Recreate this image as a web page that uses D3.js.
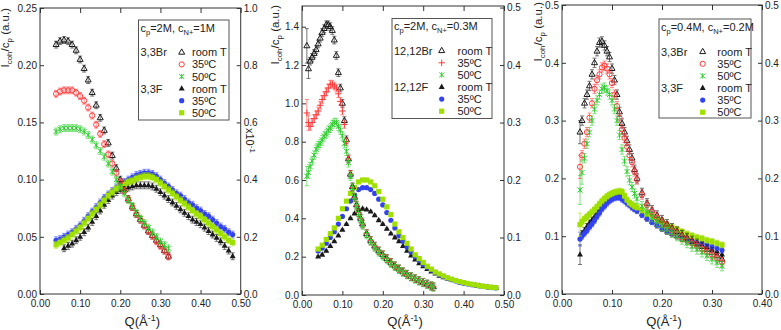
<!DOCTYPE html>
<html>
<head>
<meta charset="utf-8">
<script src="https://cdn.jsdelivr.net/npm/d3@7"></script>
<style>
body { margin: 0; background: #fff; }
svg { display: block; font-family: "Liberation Sans", Arial, sans-serif; }
</style>
</head>
<body>
<div id="chart"></div>
<script>
// ---- panel 1: cp=2M, cN+=1M (3,3Br / 3,3F)
var q1Br = [0.04,0.05,0.06,0.07,0.08,0.09,0.10,0.11,0.12,0.13,0.14,0.15,0.16,0.17,0.18,0.19,0.20,0.21,0.22,0.23,0.24,0.25,0.26,0.27,0.28,0.29,0.30,0.31,0.32];
var p1BrRoom = [0.218,0.221,0.222,0.221,0.218,0.213,0.205,0.197,0.187,0.176,0.165,0.154,0.143,0.132,0.121,0.110,0.100,0.091,0.083,0.076,0.070,0.065,0.060,0.055,0.051,0.047,0.043,0.038,0.033];
var p1Br35 = [0.175,0.177,0.178,0.178,0.178,0.176,0.173,0.169,0.163,0.156,0.148,0.140,0.131,0.122,0.114,0.106,0.098,0.090,0.083,0.076,0.070,0.065,0.060,0.055,0.051,0.046,0.042,0.038,0.033];
var p1Br50 = [0.142,0.144,0.145,0.145,0.145,0.145,0.144,0.142,0.139,0.135,0.130,0.125,0.120,0.114,0.107,0.100,0.094,0.088,0.082,0.077,0.071,0.066,0.062,0.058,0.054,0.050,0.046,0.043,0.040];
var q1F = [0.04,0.05,0.06,0.07,0.08,0.09,0.10,0.11,0.12,0.13,0.14,0.15,0.16,0.17,0.18,0.19,0.20,0.21,0.22,0.23,0.24,0.25,0.26,0.27,0.28,0.29,0.30,0.31,0.32,0.33,0.34,0.35,0.36,0.37,0.38,0.39,0.40,0.41,0.42,0.43,0.44,0.45,0.46,0.47,0.48];
var p1FRoom = [null,null,0.040,0.042,0.044,0.047,0.050,0.054,0.058,0.063,0.068,0.073,0.078,0.082,0.086,0.089,0.091,0.092,0.093,0.094,0.095,0.095,0.095,0.095,0.094,0.092,0.089,0.086,0.083,0.080,0.077,0.074,0.071,0.068,0.065,0.063,0.061,0.058,0.055,0.052,0.049,0.046,0.042,0.038,0.033];
var p1F35 = [0.047,0.048,0.050,0.052,0.054,0.057,0.060,0.064,0.068,0.072,0.076,0.080,0.084,0.087,0.090,0.093,0.096,0.098,0.100,0.102,0.104,0.105,0.106,0.106,0.105,0.103,0.100,0.097,0.094,0.091,0.088,0.086,0.083,0.080,0.078,0.075,0.073,0.070,0.068,0.065,0.062,0.059,0.057,0.054,0.052];
var p1F50 = [0.043,0.045,0.047,0.049,0.052,0.055,0.058,0.062,0.066,0.070,0.074,0.078,0.082,0.086,0.089,0.092,0.094,0.096,0.098,0.099,0.101,0.102,0.103,0.103,0.102,0.100,0.097,0.094,0.091,0.088,0.085,0.082,0.079,0.076,0.073,0.070,0.068,0.065,0.062,0.059,0.056,0.053,0.050,0.047,0.045];

// ---- panel 2: cp=2M, cN+=0.3M (12,12Br / 12,12F)
var q2Br = [0.012,0.016,0.02,0.025,0.03,0.035,0.04,0.045,0.05,0.055,0.06,0.065,0.07,0.075,0.08,0.085,0.09,0.095,0.10,0.105,0.11,0.115,0.12,0.125,0.13,0.135,0.14,0.145,0.15,0.16,0.17,0.18,0.19,0.20,0.21,0.22,0.23,0.24,0.25,0.26,0.27,0.28,0.29,0.30,0.31,0.32,0.325];
var p2BrRoom = [1.30,1.18,1.22,1.24,1.26,1.28,1.31,1.34,1.37,1.39,1.41,1.41,1.40,1.38,1.33,1.25,1.16,1.08,1.00,0.91,0.81,0.71,0.63,0.565,0.51,0.47,0.43,0.40,0.37,0.32,0.285,0.255,0.23,0.21,0.19,0.17,0.152,0.136,0.121,0.108,0.096,0.085,0.075,0.066,0.057,0.048,0.043];
var p2Br35 = [0.95,0.90,0.88,0.90,0.92,0.94,0.96,0.99,1.02,1.04,1.06,1.08,1.10,1.10,1.09,1.08,1.05,1.01,0.96,0.89,0.80,0.71,0.63,0.56,0.51,0.465,0.43,0.40,0.37,0.32,0.285,0.255,0.23,0.21,0.19,0.17,0.152,0.136,0.121,0.108,0.096,0.085,0.075,0.066,0.057,0.047,0.042];
var p2Br50 = [0.62,0.64,0.67,0.70,0.73,0.76,0.78,0.79,0.81,0.83,0.84,0.86,0.87,0.89,0.90,0.90,0.88,0.86,0.83,0.79,0.75,0.69,0.62,0.56,0.51,0.465,0.425,0.395,0.365,0.315,0.28,0.25,0.225,0.205,0.185,0.165,0.15,0.134,0.12,0.107,0.095,0.084,0.074,0.065,0.056,0.047,0.042];
var q2F = [0.04,0.05,0.06,0.07,0.08,0.09,0.10,0.11,0.12,0.13,0.14,0.15,0.16,0.17,0.18,0.19,0.20,0.21,0.22,0.23,0.24,0.25,0.26,0.27,0.28,0.29,0.30,0.31,0.32,0.33,0.34,0.35,0.36,0.37,0.38,0.39,0.40,0.41,0.42,0.43,0.44,0.45,0.46,0.47,0.48];
var p2FRoom = [0.20,0.21,0.23,0.255,0.28,0.31,0.34,0.37,0.40,0.425,0.445,0.45,0.445,0.435,0.415,0.39,0.37,0.345,0.32,0.30,0.28,0.255,0.23,0.205,0.185,0.165,0.15,0.135,0.122,0.112,0.10,0.092,0.085,0.078,0.072,0.066,0.061,0.057,0.053,0.050,0.047,0.044,0.041,0.038,0.036];
var p2F35 = [0.23,0.245,0.27,0.30,0.33,0.37,0.41,0.45,0.49,0.52,0.55,0.56,0.56,0.55,0.53,0.50,0.47,0.43,0.39,0.35,0.31,0.28,0.25,0.225,0.20,0.18,0.16,0.145,0.13,0.118,0.106,0.096,0.087,0.080,0.073,0.067,0.062,0.058,0.054,0.050,0.047,0.044,0.041,0.039,0.037];
var p2F50 = [0.24,0.26,0.29,0.32,0.35,0.40,0.45,0.49,0.53,0.56,0.59,0.60,0.60,0.59,0.57,0.54,0.50,0.46,0.42,0.37,0.33,0.30,0.27,0.24,0.21,0.19,0.17,0.15,0.135,0.12,0.11,0.10,0.09,0.083,0.076,0.070,0.065,0.060,0.056,0.052,0.048,0.045,0.042,0.040,0.038];

// ---- panel 3: cp=0.4M, cN+=0.2M (3,3Br / 3,3F)
var q3 = [0.036,0.04,0.045,0.05,0.055,0.06,0.065,0.07,0.075,0.08,0.085,0.09,0.095,0.10,0.105,0.11,0.115,0.12,0.125,0.13,0.135,0.14,0.145,0.15,0.16,0.17,0.18,0.19,0.20,0.21,0.22,0.23,0.24,0.25,0.26,0.27,0.28,0.29,0.30,0.31,0.32];
var p3BrRoom = [0.28,0.30,0.33,0.345,0.36,0.38,0.40,0.42,0.435,0.437,0.43,0.42,0.41,0.39,0.37,0.345,0.315,0.295,0.28,0.265,0.25,0.235,0.215,0.20,0.175,0.157,0.145,0.136,0.128,0.121,0.114,0.108,0.102,0.097,0.092,0.087,0.082,0.077,0.072,0.066,0.060];
var p3Br35 = [0.22,0.24,0.26,0.28,0.305,0.33,0.355,0.37,0.38,0.392,0.395,0.39,0.38,0.365,0.345,0.325,0.305,0.285,0.27,0.255,0.24,0.228,0.212,0.198,0.172,0.154,0.142,0.132,0.124,0.117,0.110,0.104,0.098,0.093,0.088,0.083,0.078,0.073,0.068,0.062,0.055];
var p3Br50 = [0.18,0.21,0.235,0.26,0.28,0.30,0.32,0.335,0.345,0.355,0.357,0.352,0.345,0.335,0.32,0.30,0.275,0.25,0.23,0.212,0.197,0.185,0.174,0.165,0.152,0.142,0.133,0.125,0.118,0.112,0.106,0.100,0.094,0.088,0.082,0.077,0.072,0.066,0.060,0.054,0.048];
var p3FRoom = [0.068,0.105,0.11,0.117,0.123,0.128,0.134,0.14,0.146,0.152,0.157,0.161,0.165,0.168,0.17,0.171,0.171,0.168,0.164,0.16,0.156,0.152,0.148,0.145,0.138,0.131,0.125,0.119,0.113,0.108,0.104,0.100,0.096,0.093,0.090,0.087,0.084,0.081,0.077,0.073,0.068];
var p3F35 = [0.095,0.10,0.105,0.11,0.116,0.121,0.127,0.134,0.14,0.147,0.152,0.157,0.161,0.164,0.166,0.167,0.167,0.164,0.161,0.157,0.154,0.15,0.147,0.144,0.137,0.131,0.125,0.12,0.115,0.11,0.106,0.102,0.099,0.096,0.093,0.09,0.088,0.085,0.082,0.079,0.076];
var p3F50 = [0.12,0.125,0.13,0.134,0.138,0.142,0.146,0.151,0.156,0.161,0.165,0.169,0.172,0.174,0.176,0.177,0.178,0.177,0.17,0.163,0.158,0.155,0.152,0.15,0.145,0.139,0.134,0.129,0.125,0.12,0.116,0.112,0.108,0.104,0.101,0.098,0.096,0.093,0.091,0.088,0.085];

// error bar half-heights: [room, 35, 50] per family, and larger ones for the first points
var p1BrErr = [0.003,0.003,0.003], p1FErr = [0.003,0.003,0.003];
var p2BrErr = [0.02,0.02,0.022], p2FErr = [0.004,0.004,0.004];
var p3BrErr = [0.008,0.008,0.008], p3FErr = [0.005,0.005,0.005];
var p2BrLead = [[0.09,0.05],[0.07,0.04],[0.05,0.03]];
var p3BrLead = [[0.02],[0.02],[0.025,0.02]];
var p3FLead = [[0.017],[0.012],[0.02]];

// tick labels
var xTicks05 = [0,0.1,0.2,0.3,0.4,0.5];
var xTicks04 = [0,0.1,0.2,0.3,0.4];
var yTicks1 = [0,0.05,0.10,0.15,0.20,0.25];
var rTicks1 = [0,0.2,0.4,0.6,0.8,1.0];
var yTicks2 = [0,0.2,0.4,0.6,0.8,1.0,1.2,1.4];
var rTicks2 = [0,0.1,0.2,0.3,0.4,0.5];
var yTicks3 = [0,0.1,0.2,0.3,0.4,0.5];

// legend text
var titleP = ["2M","2M","0.4M"];
var titleN = ["1M","0.3M","0.2M"];
var brNames = ["3,3Br","12,12Br","3,3Br"];
var fNames = ["3,3F","12,12F","3,3F"];
var tempNames = ["room T","35ºC","50ºC"];

var width = 781, height = 330;
var svg = d3.select("#chart").append("svg")
    .attr("width", width)
    .attr("height", height);

var shapes = {
    tri: "M0,-3.4L3,1.9L-3,1.9Z",
    circ: "M2.6,0A2.6,2.6 0 1,1 -2.6,0A2.6,2.6 0 1,1 2.6,0Z",
    sq: "M-2.6,-2.6H2.6V2.6H-2.6Z",
    plus: "M-3.2,0H3.2M0,-3.2V3.2",
    star: "M-2.5,-2.5L2.5,2.5M-2.5,2.5L2.5,-2.5M0,-2.6V2.6"
};
var black = "#1a1a1a", red = "#ff3b3b", green = "#2fcc2f", blue = "#3342f0", yg = "#9fe000";

var panels = [
    { x0: 40, x1: 240.7, y0: 8, y1: 294, xMax: 0.5, yMax: 0.25, rMax: 1.0,
      xT: xTicks05, yT: yTicks1, rT: rTicks1, yF: ".2f", rF: ".1f",
      box: [138.5, 20, 90.5, 100], mx: 181.7, tx: 192, lx: 140.5, ty: 52.3,
      ylx: 9, yly: 8, br35: "circ", sci: true,
      br: [p1BrRoom, p1Br35, p1Br50], qBr: q1Br, brErr: p1BrErr, brLead: [[],[],[]],
      f: [p1FRoom, p1F35, p1F50], qF: q1F, fErr: p1FErr, fLead: [[],[],[]] },
    { x0: 302, x1: 504, y0: 6, y1: 295, xMax: 0.5, yMax: 1.508, rMax: 0.5027,
      xT: xTicks05, yT: yTicks2, rT: rTicks2, yF: ".1f", rF: ".1f",
      box: [392, 18.5, 100, 100], mx: 441.7, tx: 457.5, lx: 394, ty: 50.7,
      ylx: 279, yly: 5, br35: "plus", sci: false,
      br: [p2BrRoom, p2Br35, p2Br50], qBr: q2Br, brErr: p2BrErr, brLead: p2BrLead,
      f: [p2FRoom, p2F35, p2F50], qF: q2F, fErr: p2FErr, fLead: [[],[],[]] },
    { x0: 562, x1: 762, y0: 5, y1: 294, xMax: 0.4, yMax: 0.5, rMax: 0.5,
      xT: xTicks04, yT: yTicks3, rT: yTicks3, yF: ".1f", rF: ".1f",
      box: [659, 19, 92, 99], mx: 702.7, tx: 717.3, lx: 661, ty: 51.7,
      ylx: 541.5, yly: 2, br35: "circ", sci: false,
      br: [p3BrRoom, p3Br35, p3Br50], qBr: q3, brErr: p3BrErr, brLead: p3BrLead,
      f: [p3FRoom, p3F35, p3F50], qF: q3, fErr: p3FErr, fLead: p3FLead }
];

function styleBr(p) {
    return [
        { shape: "tri", color: black, fill: "none" },
        { shape: p.br35, color: red, fill: "none" },
        { shape: "star", color: green, fill: "none" }
    ];
}
var styleF = [
    { shape: "tri", color: black, fill: black },
    { shape: "circ", color: blue, fill: blue },
    { shape: "sq", color: yg, fill: yg }
];

function drawSeries(g, x, y, qs, vals, err, lead, st) {
    var pts = qs.map(function(q, i) {
        return { q: q, v: vals[i], e: i < lead.length ? lead[i] : err };
    }).filter(function(d) { return d.v != null; });

    g.append("g")
        .attr("stroke", st.color)
        .attr("stroke-width", 0.8)
        .attr("opacity", 0.75)
        .attr("fill", "none")
        .selectAll("path")
        .data(pts)
        .enter().append("path")
        .attr("d", function(d) {
            var cx = x(d.q), t = y(d.v + d.e), b = y(d.v - d.e);
            return "M" + cx + "," + t + "V" + b +
                "M" + (cx - 2) + "," + t + "H" + (cx + 2) +
                "M" + (cx - 2) + "," + b + "H" + (cx + 2);
        });

    g.append("g")
        .selectAll("path")
        .data(pts)
        .enter().append("path")
        .attr("transform", function(d) { return "translate(" + x(d.q) + "," + y(d.v) + ")"; })
        .attr("d", shapes[st.shape])
        .attr("fill", st.fill)
        .attr("stroke", st.fill === "none" ? st.color : "none")
        .attr("stroke-width", 1);
}

panels.forEach(function(p, k) {
    var g = svg.append("g");
    var x = d3.scaleLinear().domain([0, p.xMax]).range([p.x0, p.x1]);
    var y = d3.scaleLinear().domain([0, p.yMax]).range([p.y1, p.y0]);
    var yr = d3.scaleLinear().domain([0, p.rMax]).range([p.y1, p.y0]);

    // data: F family first, Br family on top
    var sb = styleBr(p);
    var plot = g.append("g");
    [0, 1, 2].forEach(function(i) {
        drawSeries(plot, x, y, p.qF, p.f[i], p.fErr[i], p.fLead[i], styleF[i]);
    });
    [0, 1, 2].forEach(function(i) {
        drawSeries(plot, x, y, p.qBr, p.br[i], p.brErr[i], p.brLead[i], sb[i]);
    });

    // axes, ticks point inward
    var ax = g.append("g").style("font-size", "11px");
    ax.append("g")
        .attr("transform", "translate(0," + p.y1 + ")")
        .call(d3.axisBottom(x).tickValues(p.xT).tickFormat(d3.format(".2f"))
            .tickSizeInner(-4).tickSizeOuter(0).tickPadding(6));
    ax.append("g")
        .attr("transform", "translate(0," + p.y0 + ")")
        .call(d3.axisTop(x).tickValues(p.xT).tickFormat("")
            .tickSizeInner(-5).tickSizeOuter(0));
    ax.append("g")
        .attr("transform", "translate(" + p.x0 + ",0)")
        .call(d3.axisLeft(y).tickValues(p.yT).tickFormat(d3.format(p.yF))
            .tickSizeInner(-4).tickSizeOuter(0).tickPadding(3));
    ax.append("g")
        .attr("transform", "translate(" + p.x1 + ",0)")
        .call(d3.axisRight(yr).tickValues(p.rT).tickFormat(d3.format(p.rF))
            .tickSizeInner(-4).tickSizeOuter(0).tickPadding(3));
    ax.selectAll(".domain").remove();
    ax.selectAll("text").attr("fill", "#222").style("font-family", "'Liberation Sans', Arial, sans-serif");
    ax.selectAll("line").attr("stroke", "#333");

    g.append("rect")
        .attr("x", p.x0).attr("y", p.y0)
        .attr("width", p.x1 - p.x0).attr("height", p.y1 - p.y0)
        .attr("fill", "none").attr("stroke", "#333").attr("stroke-width", 1);

    // y label
    var yl = g.append("text")
        .attr("transform", "translate(" + p.ylx + "," + p.yly + ") rotate(-90)")
        .attr("text-anchor", "end")
        .attr("fill", "#222")
        .style("font-size", "11.5px");
    yl.append("tspan").text("I");
    yl.append("tspan").attr("dy", 3).style("font-size", "8px").text("coh");
    yl.append("tspan").attr("dy", -3).text("/c");
    yl.append("tspan").attr("dy", 3).style("font-size", "8px").text("p");
    yl.append("tspan").attr("dy", -3).text(" (a.u.)");

    // x label
    var xl = g.append("text")
        .attr("x", (p.x0 + p.x1) / 2 + 2)
        .attr("y", 326)
        .attr("text-anchor", "middle")
        .attr("fill", "#222")
        .style("font-size", "13px");
    xl.append("tspan").text("Q(Å");
    xl.append("tspan").attr("dy", -5).style("font-size", "9px").text("-1");
    xl.append("tspan").attr("dy", 5).text(")");

    if (p.sci) {
        var sc = g.append("text")
            .attr("transform", "translate(" + (p.x1 + 5) + ",128) rotate(90)")
            .attr("fill", "#222")
            .style("font-size", "11px");
        sc.append("tspan").text("x10");
        sc.append("tspan").attr("dy", -4).style("font-size", "8px").text("-1");
    }

    // legend
    var lg = g.append("g").style("font-size", "11px").attr("fill", "#222");
    lg.append("rect")
        .attr("x", p.box[0]).attr("y", p.box[1])
        .attr("width", p.box[2]).attr("height", p.box[3])
        .attr("fill", "#fff").attr("stroke", "#555").attr("stroke-width", 1);
    var tt = lg.append("text").attr("x", p.lx).attr("y", p.box[1] + 11.5);
    tt.append("tspan").text("c");
    tt.append("tspan").attr("dy", 3).style("font-size", "7.5px").text("p");
    tt.append("tspan").attr("dy", -3).text("=" + titleP[k] + ", c");
    tt.append("tspan").attr("dy", 3).style("font-size", "7.5px").text("N+");
    tt.append("tspan").attr("dy", -3).text("=" + titleN[k]);

    var rows = [];
    [0, 1, 2].forEach(function(i) { rows.push({ st: sb[i], t: tempNames[i], name: i === 0 ? brNames[k] : null }); });
    [0, 1, 2].forEach(function(i) { rows.push({ st: styleF[i], t: tempNames[i], name: i === 0 ? fNames[k] : null }); });
    rows.forEach(function(r, i) {
        var cy = p.ty + i * 12.1;
        if (r.name) lg.append("text").attr("x", p.lx).attr("y", cy + 4).text(r.name);
        lg.append("path")
            .attr("transform", "translate(" + p.mx + "," + cy + ")")
            .attr("d", shapes[r.st.shape])
            .attr("fill", r.st.fill)
            .attr("stroke", r.st.fill === "none" ? r.st.color : "none")
            .attr("stroke-width", 1);
        lg.append("text").attr("x", p.tx).attr("y", cy + 4).text(r.t);
    });
});
</script>
</body>
</html>
